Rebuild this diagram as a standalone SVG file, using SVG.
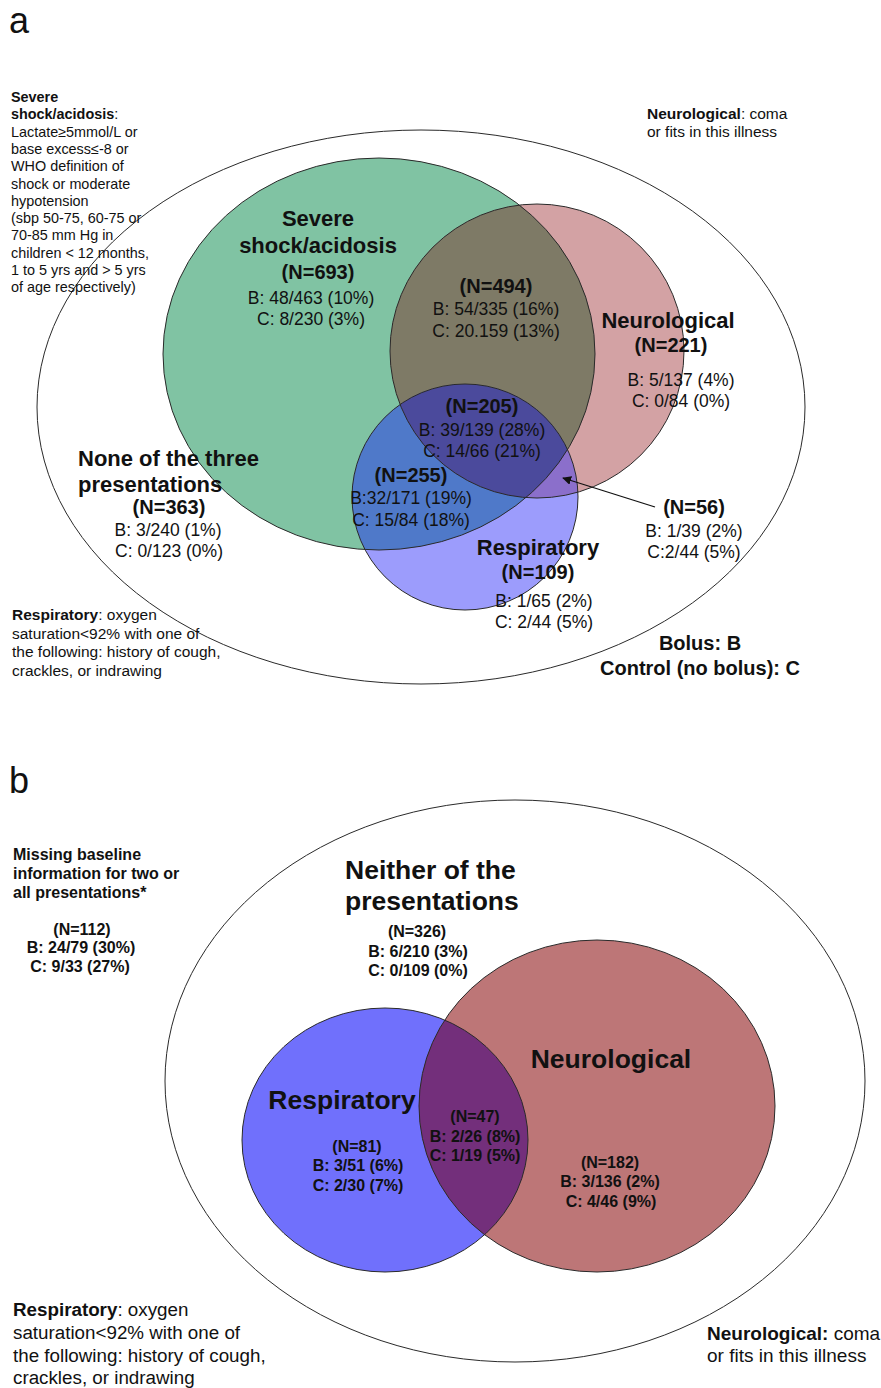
<svg xmlns="http://www.w3.org/2000/svg" width="881" height="1388" viewBox="0 0 881 1388">
<style>
text{font-family:"Liberation Sans",Arial,Helvetica,sans-serif;fill:#111}
.b{font-weight:bold}
.t{font-size:22px;font-weight:bold;text-anchor:middle}
.n{font-size:20px;font-weight:bold;text-anchor:middle}
.v{font-size:17.5px;text-anchor:middle}
.bn{font-size:16px;font-weight:bold;text-anchor:middle}
.tb{font-size:26.5px;font-weight:bold}
.def14{font-size:14.4px}
.def15{font-size:15.5px}
.def18{font-size:18.8px}
.edge{fill:none;stroke:#2a2a2a;stroke-width:1}
.panel{font-size:36px}
</style>
<defs>
<clipPath id="cG"><ellipse cx="379" cy="354" rx="216" ry="196"/></clipPath>
<clipPath id="cN"><circle cx="537" cy="351" r="147"/></clipPath>
<clipPath id="cBn"><ellipse cx="597" cy="1106" rx="178" ry="166"/></clipPath>
<marker id="ah" viewBox="0 0 10 10" refX="9" refY="5" markerWidth="9" markerHeight="9" orient="auto" markerUnits="userSpaceOnUse">
<path d="M0,0 L10,5 L0,10 z" fill="#111"/>
</marker>
</defs>

<!-- Panel a -->
<text class="panel" x="9" y="33">a</text>

<g id="a-universe">
<ellipse class="edge" cx="421" cy="407" rx="384" ry="277"/>
</g>

<g id="a-shock">
<ellipse cx="379" cy="354" rx="216" ry="196" fill="#80C3A3"/>
</g>
<g id="a-neuro">
<circle cx="537" cy="351" r="147" fill="#D3A2A4"/>
<circle cx="537" cy="351" r="147" fill="#7E7A66" clip-path="url(#cG)"/>
</g>
<g id="a-resp">
<circle cx="465" cy="497" r="113" fill="#9C9CFC"/>
<circle cx="465" cy="497" r="113" fill="#4F79C9" clip-path="url(#cG)"/>
<circle cx="465" cy="497" r="113" fill="#8B6FCB" clip-path="url(#cN)"/>
<g clip-path="url(#cG)"><circle cx="465" cy="497" r="113" fill="#4B4A9C" clip-path="url(#cN)"/></g>
</g>
<g id="a-outlines">
<ellipse class="edge" cx="379" cy="354" rx="216" ry="196"/>
<circle class="edge" cx="537" cy="351" r="147"/>
<circle class="edge" cx="465" cy="497" r="113"/>
</g>

<g id="a-def-shock">
<text class="def14" x="11" y="102"><tspan class="b">Severe</tspan></text>
<text class="def14" x="11" y="119.3"><tspan class="b">shock/acidosis</tspan>:</text>
<text class="def14" x="11" y="136.6">Lactate≥5mmol/L or</text>
<text class="def14" x="11" y="153.9">base excess≤-8 or</text>
<text class="def14" x="11" y="171.2">WHO definition of</text>
<text class="def14" x="11" y="188.5">shock or moderate</text>
<text class="def14" x="11" y="205.8">hypotension</text>
<text class="def14" x="11" y="223.1">(sbp 50-75, 60-75 or</text>
<text class="def14" x="11" y="240.4">70-85 mm Hg in</text>
<text class="def14" x="11" y="257.7">children &lt; 12 months,</text>
<text class="def14" x="11" y="275">1 to 5 yrs and &gt; 5 yrs</text>
<text class="def14" x="11" y="292.3">of age respectively)</text>
</g>

<g id="a-def-neuro">
<text class="def15" x="647" y="119"><tspan class="b">Neurological</tspan>: coma</text>
<text class="def15" x="647" y="137">or fits in this illness</text>
</g>

<g id="a-def-resp">
<text class="def15" x="12" y="620"><tspan class="b">Respiratory</tspan>: oxygen</text>
<text class="def15" x="12" y="638.5">saturation&lt;92% with one of</text>
<text class="def15" x="12" y="657">the following: history of cough,</text>
<text class="def15" x="12" y="675.5">crackles, or indrawing</text>
</g>

<g id="a-label-shock">
<text class="t" x="318" y="226">Severe</text>
<text class="t" x="318" y="253">shock/acidosis</text>
<text class="n" x="318" y="279">(N=693)</text>
<text class="v" x="311" y="304">B: 48/463 (10%)</text>
<text class="v" x="311" y="325">C: 8/230 (3%)</text>
</g>

<g id="a-label-shock-neuro">
<text class="n" x="496" y="293">(N=494)</text>
<text class="v" x="496" y="315">B: 54/335 (16%)</text>
<text class="v" x="496" y="337">C: 20.159 (13%)</text>
</g>

<g id="a-label-neuro">
<text class="t" x="668" y="328">Neurological</text>
<text class="n" x="671" y="352">(N=221)</text>
<text class="v" x="681" y="386">B: 5/137 (4%)</text>
<text class="v" x="681" y="407">C: 0/84 (0%)</text>
</g>

<g id="a-label-all">
<text class="n" x="482" y="413">(N=205)</text>
<text class="v" x="482" y="436">B: 39/139 (28%)</text>
<text class="v" x="482" y="457">C: 14/66 (21%)</text>
</g>

<g id="a-label-shock-resp">
<text class="n" x="411" y="482">(N=255)</text>
<text class="v" x="411" y="504">B:32/171 (19%)</text>
<text class="v" x="411" y="526">C: 15/84 (18%)</text>
</g>

<g id="a-label-resp">
<text class="t" x="538" y="555">Respiratory</text>
<text class="n" x="538" y="579">(N=109)</text>
<text class="v" x="544" y="607">B: 1/65 (2%)</text>
<text class="v" x="544" y="628">C: 2/44 (5%)</text>
</g>

<g id="a-label-neuro-resp">
<text class="n" x="694" y="514">(N=56)</text>
<text class="v" x="694" y="537">B: 1/39 (2%)</text>
<text class="v" x="694" y="558">C:2/44 (5%)</text>
</g>

<g id="a-label-none">
<text class="t" x="78" y="466" style="text-anchor:start">None of the three</text>
<text class="t" x="78" y="492" style="text-anchor:start">presentations</text>
<text class="n" x="169" y="514">(N=363)</text>
<text class="v" x="168" y="536">B: 3/240 (1%)</text>
<text class="v" x="169" y="557">C: 0/123 (0%)</text>
</g>

<g id="a-legend">
<text class="n" x="700" y="650">Bolus: B</text>
<text class="n" x="700" y="675">Control (no bolus): C</text>
</g>

<g id="connectors">
<line x1="655" y1="507" x2="563" y2="478" stroke="#111" stroke-width="1.3" marker-end="url(#ah)"/>
</g>

<!-- Panel b -->
<text class="panel" x="9" y="793">b</text>

<g id="b-universe">
<ellipse class="edge" cx="515" cy="1081" rx="350" ry="281"/>
</g>

<g id="b-resp">
<ellipse cx="385" cy="1140" rx="143" ry="132" fill="#7070FC"/>
</g>
<g id="b-neuro">
<ellipse cx="597" cy="1106" rx="178" ry="166" fill="#BD7677"/>
<ellipse cx="385" cy="1140" rx="143" ry="132" fill="#732F7B" clip-path="url(#cBn)"/>
</g>
<g id="b-outlines">
<ellipse class="edge" cx="385" cy="1140" rx="143" ry="132"/>
<ellipse class="edge" cx="597" cy="1106" rx="178" ry="166"/>
</g>

<g id="b-missing">
<text class="b" style="font-size:16px" x="13" y="860">Missing baseline</text>
<text class="b" style="font-size:16px" x="13" y="879">information for two or</text>
<text class="b" style="font-size:16px" x="13" y="898">all presentations*</text>
<text class="bn" x="82" y="935">(N=112)</text>
<text class="bn" x="81" y="953">B: 24/79 (30%)</text>
<text class="bn" x="80" y="972">C: 9/33 (27%)</text>
</g>

<g id="b-label-neither">
<text class="tb" x="345" y="879">Neither of the</text>
<text class="tb" x="345" y="910">presentations</text>
<text class="bn" x="417" y="937">(N=326)</text>
<text class="bn" x="418" y="957">B: 6/210 (3%)</text>
<text class="bn" x="418" y="976">C: 0/109 (0%)</text>
</g>

<g id="b-label-neuro">
<text class="tb" x="611" y="1068" text-anchor="middle">Neurological</text>
<text class="bn" x="610" y="1168">(N=182)</text>
<text class="bn" x="610" y="1187">B: 3/136 (2%)</text>
<text class="bn" x="611" y="1207">C: 4/46 (9%)</text>
</g>

<g id="b-label-resp">
<text class="tb" x="342" y="1109" text-anchor="middle">Respiratory</text>
<text class="bn" x="357" y="1152">(N=81)</text>
<text class="bn" x="358" y="1171">B: 3/51 (6%)</text>
<text class="bn" x="358" y="1191">C: 2/30 (7%)</text>
</g>

<g id="b-label-both">
<text class="bn" x="475" y="1122">(N=47)</text>
<text class="bn" x="475" y="1142">B: 2/26 (8%)</text>
<text class="bn" x="475" y="1161">C: 1/19 (5%)</text>
</g>

<g id="b-def-resp">
<text class="def18" x="13" y="1316"><tspan class="b">Respiratory</tspan>: oxygen</text>
<text class="def18" x="13" y="1339">saturation&lt;92% with one of</text>
<text class="def18" x="13" y="1362">the following: history of cough,</text>
<text class="def18" x="13" y="1384">crackles, or indrawing</text>
</g>

<g id="b-def-neuro">
<text style="font-size:19px" x="707" y="1340"><tspan class="b">Neurological:</tspan> coma</text>
<text style="font-size:19px" x="707" y="1362">or fits in this illness</text>
</g>
</svg>
